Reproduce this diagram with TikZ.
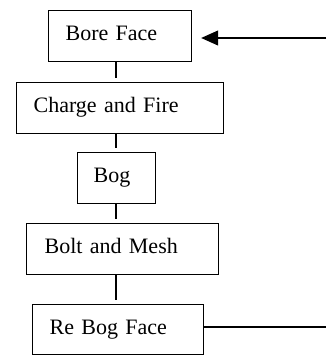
\documentclass[tikz,border=0pt]{standalone}
\usepackage{fontspec}
\setmainfont{Liberation Serif}
\usetikzlibrary{arrows.meta}
\begin{document}
\begin{tikzpicture}[x=1pt,y=-1pt,
  stepbox/.style={draw, line width=1.2pt, anchor=north west, inner xsep=17pt, inner ysep=0pt,
    minimum height=51pt, align=left, text height=15pt, text depth=6pt,
    font=\fontsize{22}{24}\selectfont},
  link/.style={line width=1.1pt, shorten >=4pt}
]
\useasboundingbox (0,0) rectangle (326,355);
\coordinate (spine) at (116,0);
\node[stepbox, text width=109pt] (b1) at (48,10) {Bore Face};
\node[stepbox, text width=173pt] (b2) at (16,82) {Charge and Fire};
\node[stepbox, inner xsep=16pt, text width=46pt] (b3) at (77,152) {Bog};
\node[stepbox, inner xsep=18pt, text width=156pt] (b4) at (26,223) {Bolt and Mesh};
\node[stepbox, text width=137pt, minimum height=50pt] (b5) at (32,304) {Re Bog Face};
\coordinate (a1) at (326,38);
\coordinate (r5) at (326,327);
\draw[link] (b1.south -| spine) -- (b2.north -| spine);
\draw[link] (b2.south -| spine) -- (b3.north -| spine);
\draw[link] (b3.south -| spine) -- (b4.north -| spine);
\draw[link] (b4.south -| spine) -- (b5.north -| spine);
\draw[line width=1.1pt, -{Triangle[length=17pt,width=15pt]}, shorten >=9pt] (a1) -- (b1.east |- a1);
\draw[line width=1.1pt] (b5.east |- r5) -- (r5);
\end{tikzpicture}
\end{document}
